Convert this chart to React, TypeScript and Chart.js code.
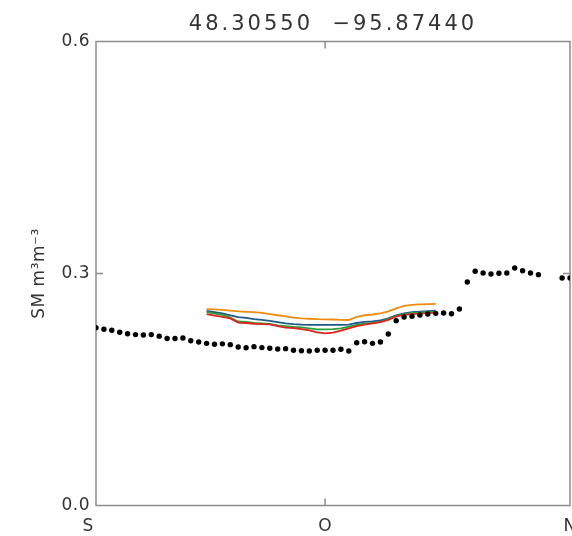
import React, { useEffect, useRef } from 'react';
import { Chart, registerables } from 'chart.js';

Chart.register(...registerables);

const TITLE = '48.30550  −95.87440';
const Y_LABEL = 'SM m³m⁻³';
const MONTH_TICK_DAYS = [0, 30, 61];
const MONTH_LABELS = ['S', 'O', 'N'];
const Y_TICKS = [0, 0.3, 0.6];
const FONT = 'DejaVu Sans';

// observed soil moisture, one value per day starting at day 1 after Sep 1
const OBS_START_DAY = 1;
const OBS: (number | null)[] = [
  0.230, 0.228, 0.2266, 0.224, 0.222, 0.221, 0.2205, 0.221, 0.219, 0.216,
  0.216, 0.2166, 0.213, 0.2114, 0.2097, 0.2085, 0.209, 0.208, 0.205, 0.204,
  0.2054, 0.2042, 0.2033, 0.2024, 0.2028, 0.2007, 0.2002, 0.1998, 0.2007, 0.2007,
  0.2007, 0.202, 0.1998, 0.2105, 0.2118, 0.2097, 0.2114, 0.2218, 0.239, 0.2437,
  0.2446, 0.2463, 0.2476, 0.2485, 0.2489, 0.248, 0.2541, 0.289, 0.3029, 0.3007,
  0.2994, 0.3003, 0.3007, 0.3071, 0.3036, 0.3007, 0.2985, null, null, 0.2942, 0.2942,
];

// model runs, one value per day starting at day 15
const MODEL_START_DAY = 15;
const ORANGE = [
  0.254, 0.2535, 0.253, 0.252, 0.251, 0.2505, 0.250, 0.249, 0.2476, 0.246,
  0.2445, 0.243, 0.242, 0.2415, 0.241, 0.2408, 0.2405, 0.240, 0.2399, 0.244,
  0.246, 0.247, 0.2485, 0.251, 0.255, 0.258, 0.2595, 0.260, 0.2603, 0.2606,
];
const BLUE = [
  0.2515, 0.250, 0.2485, 0.246, 0.2435, 0.2425, 0.241, 0.240, 0.2386, 0.237,
  0.2355, 0.2345, 0.2338, 0.2335, 0.2335, 0.2335, 0.2335, 0.2335, 0.2338, 0.236,
  0.2375, 0.238, 0.2395, 0.242, 0.246, 0.2485, 0.250, 0.2508, 0.2513, 0.2519,
];
const GREEN = [
  0.250, 0.248, 0.2465, 0.243, 0.238, 0.2375, 0.236, 0.2355, 0.2347, 0.233,
  0.232, 0.231, 0.2304, 0.229, 0.2278, 0.2278, 0.228, 0.229, 0.2312, 0.2335,
  0.235, 0.236, 0.2375, 0.241, 0.245, 0.2475, 0.249, 0.2495, 0.250, 0.2502,
];
const RED = [
  0.2476, 0.2455, 0.244, 0.242, 0.2365, 0.236, 0.235, 0.2345, 0.2343, 0.232,
  0.230, 0.2295, 0.2282, 0.2265, 0.224, 0.2225, 0.2235, 0.226, 0.229, 0.232,
  0.234, 0.2355, 0.237, 0.240, 0.2445, 0.2465, 0.2476, 0.248, 0.2488, 0.2493,
];

const toPoints = (arr: (number | null)[], start: number) =>
  arr
    .map((v, i) => (v === null ? null : { x: start + i, y: v }))
    .filter((p) => p !== null) as { x: number; y: number }[];

const spacingPlugin = {
  id: 'letterSpacing',
  beforeDraw(chart: any) {
    const ctx: any = chart.ctx;
    if (ctx.__spacingPatched) return;
    ctx.__spacingPatched = true;
    const orig = ctx.fillText;
    ctx.fillText = function (text: string, x: number, y: number, mw?: number) {
      const m = /(\d+(?:\.\d+)?)px/.exec(this.font);
      const size = m ? parseFloat(m[1]) : 12;
      const prev = this.letterSpacing;
      this.letterSpacing = size >= 20 ? '3px' : '0.5px';
      if (mw === undefined) orig.call(this, text, x, y);
      else orig.call(this, text, x, y, mw);
      this.letterSpacing = prev || '0px';
    };
  },
};

const framePlugin = {
  id: 'frame',
  beforeDatasetsDraw(chart: any) {
    const { ctx, chartArea } = chart;
    const { left, right, top, bottom } = chartArea;
    const xs = chart.scales.x;
    const ys = chart.scales.y;
    ctx.save();
    ctx.strokeStyle = '#8c8c8c';
    ctx.lineWidth = 1.5;
    ctx.strokeRect(left, top, right - left, bottom - top);
    ctx.beginPath();
    const tl = 7;
    MONTH_TICK_DAYS.forEach((d) => {
      const px = xs.getPixelForValue(d);
      if (px > left + 1 && px < right - 1) {
        ctx.moveTo(px, bottom);
        ctx.lineTo(px, bottom - tl);
        ctx.moveTo(px, top);
        ctx.lineTo(px, top + tl);
      }
    });
    Y_TICKS.forEach((v) => {
      const py = ys.getPixelForValue(v);
      if (py > top + 1 && py < bottom - 1) {
        ctx.moveTo(left, py);
        ctx.lineTo(left + tl, py);
        ctx.moveTo(right, py);
        ctx.lineTo(right - tl, py);
      }
    });
    ctx.stroke();
    ctx.restore();
  },
};

export default function App() {
  const ref = useRef<HTMLCanvasElement>(null);

  useEffect(() => {
    if (!ref.current) return;
    const lineDs = (data: number[], color: string) => ({
      data: toPoints(data, MODEL_START_DAY),
      showLine: true,
      borderColor: color,
      backgroundColor: color,
      borderWidth: 1.8,
      pointRadius: 0,
      tension: 0,
    });
    const chart = new Chart(ref.current, {
      type: 'scatter',
      data: {
        datasets: [
          {
            data: toPoints(OBS, OBS_START_DAY),
            showLine: false,
            pointRadius: 2.7,
            pointBorderWidth: 0,
            backgroundColor: '#000000',
            borderColor: '#000000',
          },
          lineDs(ORANGE, '#ee8c12'),
          lineDs(RED, '#e2231c'),
          lineDs(GREEN, '#27a23a'),
          lineDs(BLUE, '#1d5a8a'),
        ] as any,
      },
      options: {
        animation: false,
        responsive: false,
        devicePixelRatio: 1,
        layout: { padding: { left: 0, right: 2, top: 0, bottom: 0 }, autoPadding: false } as any,
        plugins: {
          legend: { display: false },
          tooltip: { enabled: false },
          title: {
            display: true,
            text: TITLE,
            fullSize: false,
            color: '#333333',
            font: { family: FONT, size: 21, weight: 'normal', lineHeight: 1.2 },
            padding: { top: 11.5, bottom: 4.8 },
          } as any,
        },
        scales: {
          x: {
            type: 'linear',
            min: 1,
            max: 61,
            bounds: 'data',
            grid: { display: false, drawTicks: false },
            border: { display: false },
            afterBuildTicks: (scale: any) => {
              scale.ticks = MONTH_TICK_DAYS.map((v) => ({ value: v }));
            },
            afterFit: (scale: any) => {
              scale.height = 30.5;
              scale.paddingLeft = 0;
              scale.paddingRight = 0;
            },
            ticks: {
              autoSkip: false,
              maxRotation: 0,
              padding: 11,
              color: '#333333',
              font: { family: FONT, size: 17 },
              callback: (v: any) => {
                const i = MONTH_TICK_DAYS.indexOf(Number(v));
                return i >= 0 ? MONTH_LABELS[i] : '';
              },
            },
          },
          y: {
            type: 'linear',
            min: 0,
            max: 0.6,
            bounds: 'data',
            grid: { display: false, drawTicks: false },
            border: { display: false },
            afterBuildTicks: (scale: any) => {
              scale.ticks = Y_TICKS.map((v) => ({ value: v }));
            },
            afterFit: (scale: any) => {
              scale.width = 96;
              scale.paddingTop = 0;
              scale.paddingBottom = 0;
            },
            ticks: {
              padding: 6,
              color: '#333333',
              font: { family: FONT, size: 17 },
              callback: (v: any) => Number(v).toFixed(1),
            },
            title: {
              display: true,
              text: Y_LABEL,
              color: '#333333',
              font: { family: FONT, size: 17, lineHeight: 1.2 },
              padding: { top: 29, bottom: 0 },
            },
          },
        },
      } as any,
      plugins: [spacingPlugin, framePlugin],
    });
    return () => chart.destroy();
  }, []);

  return (
    <canvas
      ref={ref}
      width={572}
      height={536}
      style={{ position: 'absolute', left: 0, top: 0, display: 'block' }}
    />
  );
}
